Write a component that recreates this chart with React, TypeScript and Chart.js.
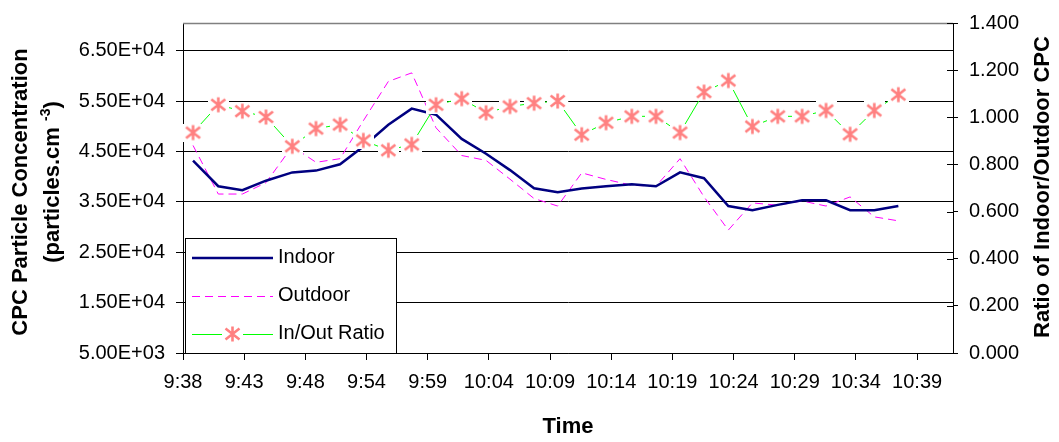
import React, { useEffect, useRef } from 'react';
import { Chart, registerables } from 'chart.js';

Chart.register(...registerables);

const FONT = '"Liberation Sans", Arial, Helvetica, sans-serif';

// Sample times, minutes after 9:38
const TIME_MIN = [0.85, 2.99, 5.03, 7.03, 9.26, 11.27, 13.31, 15.28, 17.4, 19.38, 21.44, 23.62, 25.68, 27.71, 29.75, 31.75, 33.79, 35.85, 38.03, 40.08, 42.12, 44.15, 46.21, 48.25, 50.4, 52.46, 54.49, 56.53, 58.58, 60.62];

const INDOOR = [43200, 38100, 37300, 39200, 40850, 41200, 42450, 46000, 50300, 53500, 52300, 47500, 44560, 41300, 37700, 36900, 37640, 38100, 38490, 38100, 40850, 39700, 34170, 33350, 34400, 35320, 35320, 33350, 33350, 34170];

const OUTDOOR = [46200, 36550, 36550, 38800, 46000, 42850, 43570, 51100, 58900, 60600, 49700, 44200, 43230, 39500, 35660, 34170, 40750, 39450, 38290, 38100, 43570, 36000, 29400, 34790, 34330, 35180, 34170, 35980, 32020, 31230];

const RATIO = [0.935, 1.053, 1.026, 1.001, 0.877, 0.952, 0.969, 0.902, 0.86, 0.885, 1.053, 1.079, 1.019, 1.046, 1.06, 1.069, 0.926, 0.977, 1.004, 1.004, 0.935, 1.107, 1.156, 0.961, 1.004, 1.004, 1.029, 0.928, 1.029, 1.096];

const X_TICK_MIN = [0, 5.18, 10.37, 15.55, 20.74, 25.92, 31.1, 36.29, 41.47, 46.66, 51.84, 57.02, 62.21];
const X_TICK_LABELS = ['9:38', '9:43', '9:48', '9:54', '9:59', '10:04', '10:09', '10:14', '10:19', '10:24', '10:29', '10:34', '10:39'];
const X_MIN = 0;
const X_MAX = 65.25;

const LEFT_TICKS = [5000, 15000, 25000, 35000, 45000, 55000, 65000];
const LEFT_MIN = 5000;
const LEFT_MAX = 70500;

const RIGHT_TICKS = [0, 0.2, 0.4, 0.6, 0.8, 1.0, 1.2, 1.4];
const RIGHT_MIN = 0;
const RIGHT_MAX = 1.4;

function fmtExp(v: number): string {
  const [m, e] = v.toExponential(2).split('e');
  const sign = e[0];
  const digits = e.slice(1).padStart(2, '0');
  return `${m}E${sign}${digits}`;
}

function drawStar(g: CanvasRenderingContext2D, cx: number, cy: number) {
  g.save();
  g.strokeStyle = '#FF8080';
  g.lineWidth = 2.6;
  g.beginPath();
  g.moveTo(cx, cy - 7.5);
  g.lineTo(cx, cy + 7.5);
  g.moveTo(cx - 7, cy - 5.5);
  g.lineTo(cx + 7, cy + 5.5);
  g.moveTo(cx - 7, cy + 5.5);
  g.lineTo(cx + 7, cy - 5.5);
  g.stroke();
  g.restore();
}

function makeMarker(): HTMLCanvasElement {
  const c = document.createElement('canvas');
  c.width = 21;
  c.height = 18;
  const g = c.getContext('2d')!;
  g.fillStyle = '#ffffff';
  g.fillRect(0, 0, 21, 18);
  drawStar(g, 10.5, 9);
  return c;
}

function hline(ctx: CanvasRenderingContext2D, x1: number, x2: number, y: number) {
  ctx.beginPath();
  ctx.moveTo(x1, y);
  ctx.lineTo(x2, y);
  ctx.stroke();
}

const extrasPlugin = {
  id: 'extras',
  beforeDatasetsDraw(chart: any) {
    const { ctx, chartArea: a } = chart;
    ctx.save();
    ctx.strokeStyle = '#808080';
    ctx.lineWidth = 1.5;
    hline(ctx, a.left, a.right, a.top + 0.5);
    const y1 = chart.scales.y1;
    ctx.strokeStyle = '#000';
    ctx.lineWidth = 1;
    RIGHT_TICKS.forEach((v) => {
      const y = Math.round(y1.getPixelForValue(v)) + 0.5;
      hline(ctx, a.right - 6, a.right, y);
    });
    ctx.restore();
  },
  afterDatasetsDraw(chart: any) {
    const { ctx, chartArea: a } = chart;
    const marker = chart.options.plugins.extras.marker as HTMLCanvasElement;
    ctx.save();
    const lx = a.left + 2;
    const ly = 238;
    const lw = 211;
    const lh = a.bottom - ly;
    ctx.fillStyle = '#fff';
    ctx.fillRect(lx, ly, lw, lh);
    ctx.strokeStyle = '#000';
    ctx.lineWidth = 1;
    ctx.strokeRect(lx + 0.5, ly + 0.5, lw, lh);

    const x1 = a.left + 9;
    const x2 = a.left + 90;
    // Indoor
    ctx.strokeStyle = '#000080';
    ctx.lineWidth = 2.5;
    hline(ctx, x1, x2, 258);
    // Outdoor
    ctx.strokeStyle = '#FF00FF';
    ctx.lineWidth = 1;
    ctx.setLineDash([8, 5]);
    hline(ctx, x1, x2, 296.5);
    ctx.setLineDash([]);
    // Ratio
    ctx.strokeStyle = '#00FF00';
    hline(ctx, x1, x2, 334.5);
    ctx.drawImage(marker, (x1 + x2) / 2 - 10.5, 334 - 9);

    ctx.fillStyle = '#000';
    ctx.font = `20px ${FONT}`;
    ctx.textAlign = 'left';
    ctx.textBaseline = 'middle';
    ctx.fillText('Indoor', a.left + 95, 257);
    ctx.fillText('Outdoor', a.left + 95, 295);
    ctx.fillText('In/Out Ratio', a.left + 95, 333);
    ctx.restore();
  },
  afterDraw(chart: any) {
    const { ctx, chartArea: a } = chart;
    ctx.save();
    ctx.fillStyle = '#000';
    ctx.textBaseline = 'middle';
    ctx.textAlign = 'center';
    const bold = `bold 22px ${FONT}`;
    const supFont = `bold 14px ${FONT}`;

    // Left title line 1
    ctx.font = bold;
    ctx.save();
    ctx.translate(21, 192);
    ctx.rotate(-Math.PI / 2);
    ctx.fillText('CPC Particle Concentration', 0, 0);
    ctx.restore();

    // Left title line 2 with superscript
    ctx.save();
    ctx.translate(53, 182);
    ctx.rotate(-Math.PI / 2);
    ctx.textAlign = 'left';
    ctx.font = bold;
    const p1 = '(particles.cm ';
    const p3 = ')';
    const w1 = ctx.measureText(p1).width;
    const w3 = ctx.measureText(p3).width;
    ctx.font = supFont;
    const p2 = '-3';
    const w2 = ctx.measureText(p2).width;
    let sx = -(w1 + w2 + w3) / 2;
    ctx.font = bold;
    ctx.fillText(p1, sx, 0);
    sx += w1;
    ctx.font = supFont;
    ctx.fillText(p2, sx, -7);
    sx += w2;
    ctx.font = bold;
    ctx.fillText(p3, sx, 0);
    ctx.restore();

    // Right title
    ctx.save();
    ctx.font = bold;
    ctx.translate(1043, 187);
    ctx.rotate(-Math.PI / 2);
    ctx.fillText('Ratio of Indoor/Outdoor CPC', 0, 0);
    ctx.restore();

    // X title
    ctx.font = bold;
    ctx.fillText('Time', (a.left + a.right) / 2, 427);
    ctx.restore();
  },
};

export default function App() {
  const ref = useRef<HTMLCanvasElement>(null);

  useEffect(() => {
    document.body.style.margin = '0';
    const canvas = ref.current!;
    const marker = makeMarker();
    const tickFont = { family: FONT, size: 20 };

    const chart = new Chart(canvas, {
      type: 'line',
      data: {
        datasets: [
          {
            label: 'In/Out Ratio',
            data: TIME_MIN.map((t, i) => ({ x: t, y: RATIO[i] })),
            yAxisID: 'y1',
            borderColor: '#00FF00',
            borderWidth: 1,
            pointStyle: marker as any,
            pointRadius: 10,
            pointHoverRadius: 10,
            order: 0,
            tension: 0,
          },
          {
            label: 'Indoor',
            data: TIME_MIN.map((t, i) => ({ x: t, y: INDOOR[i] })),
            yAxisID: 'y',
            borderColor: '#000080',
            borderWidth: 2.5,
            pointRadius: 0,
            order: 1,
            tension: 0,
          },
          {
            label: 'Outdoor',
            data: TIME_MIN.map((t, i) => ({ x: t, y: OUTDOOR[i] })),
            yAxisID: 'y',
            borderColor: '#FF00FF',
            borderWidth: 1,
            borderDash: [8, 5],
            pointRadius: 0,
            order: 2,
            tension: 0,
          },
        ],
      },
      options: {
        responsive: false,
        animation: false,
        events: [],
        layout: { padding: { top: 22, left: 0, right: 0, bottom: 0 } },
        plugins: {
          legend: { display: false },
          tooltip: { enabled: false },
          extras: { marker },
        } as any,
        scales: {
          x: {
            type: 'linear',
            position: 'bottom',
            min: X_MIN,
            max: X_MAX,
            afterBuildTicks: (s: any) => {
              s.ticks = X_TICK_MIN.map((v) => ({ value: v }));
            },
            afterFit: (s: any) => {
              s.height = 89;
            },
            ticks: {
              autoSkip: false,
              maxRotation: 0,
              minRotation: 0,
              color: '#000',
              font: tickFont,
              padding: 10,
              callback: (_v: any, i: number) => X_TICK_LABELS[i] ?? '',
            },
            grid: { drawOnChartArea: false, drawTicks: true, tickLength: 7, color: '#000' },
            border: { color: '#000', width: 1 },
          },
          y: {
            type: 'linear',
            position: 'left',
            min: LEFT_MIN,
            max: LEFT_MAX,
            afterBuildTicks: (s: any) => {
              s.ticks = LEFT_TICKS.map((v) => ({ value: v }));
            },
            afterFit: (s: any) => {
              s.width = 183;
            },
            ticks: {
              color: '#000',
              font: tickFont,
              padding: 11,
              callback: (v: any) => fmtExp(Number(v)),
            },
            grid: { drawOnChartArea: true, drawTicks: true, tickLength: 7, color: '#000', lineWidth: 1 },
            border: { color: '#000', width: 1 },
          },
          y1: {
            type: 'linear',
            position: 'right',
            min: RIGHT_MIN,
            max: RIGHT_MAX,
            afterBuildTicks: (s: any) => {
              s.ticks = RIGHT_TICKS.map((v) => ({ value: v }));
            },
            afterFit: (s: any) => {
              s.width = 106;
            },
            ticks: {
              color: '#000',
              font: tickFont,
              padding: 11,
              callback: (v: any) => Number(v).toFixed(3),
            },
            grid: { drawOnChartArea: false, drawTicks: true, tickLength: 5, color: '#000' },
            border: { color: '#000', width: 1 },
          },
        },
      } as any,
      plugins: [extrasPlugin],
    });

    return () => chart.destroy();
  }, []);

  return (
    <div style={{ width: 1059, height: 442, position: 'relative', background: '#fff' }}>
      <canvas ref={ref} width={1059} height={442} style={{ display: 'block', width: 1059, height: 442 }} />
    </div>
  );
}
